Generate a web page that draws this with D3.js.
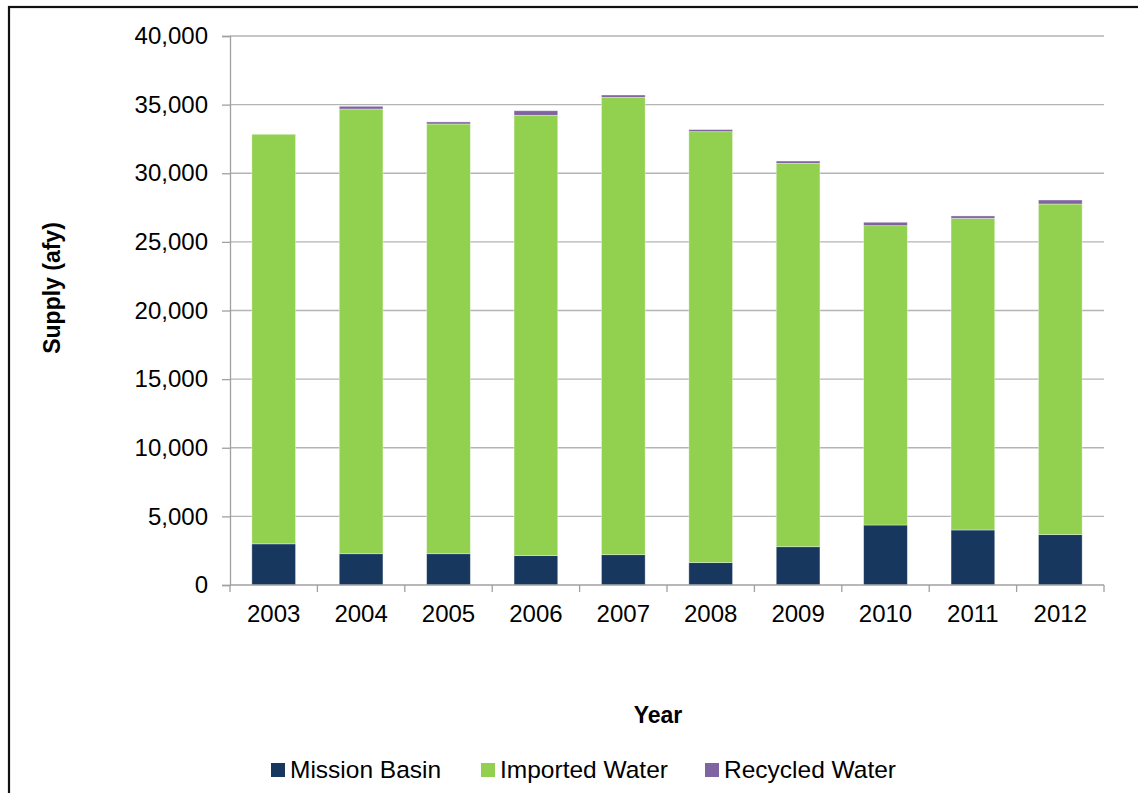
<!DOCTYPE html>
<html>
<head>
<meta charset="utf-8">
<script src="https://cdn.jsdelivr.net/npm/d3@7"></script>
<style>
  html, body { margin: 0; padding: 0; background: #fff; }
  svg { display: block; font-family: "Liberation Sans", Arial, sans-serif; }
</style>
</head>
<body>
<svg id="chart" width="1138" height="793"></svg>
<script>
// Annual water supply by source (acre-feet per year)
const years = ["2003", "2004", "2005", "2006", "2007", "2008", "2009", "2010", "2011", "2012"];
const missionBasin  = [3000, 2280, 2280, 2140, 2210, 1630, 2790, 4370, 4010, 3670];
const importedWater = [29840, 32400, 31310, 32080, 33320, 31400, 27930, 21810, 22710, 24090];
const recycledWater = [0, 200, 150, 335, 170, 150, 170, 250, 170, 290];
const yTicks = [0, 5000, 10000, 15000, 20000, 25000, 30000, 35000, 40000];

const seriesNames = ["Mission Basin", "Imported Water", "Recycled Water"];
const seriesColors = ["#17375E", "#92D050", "#8064A2"];

const rows = years.map((y, i) => ({
  year: y,
  "Mission Basin": missionBasin[i],
  "Imported Water": importedWater[i],
  "Recycled Water": recycledWater[i]
}));

const svg = d3.select("#chart");
const plot = { left: 230, right: 1104, top: 36, bottom: 585 };

// Outer frame
svg.append("rect")
  .attr("x", 9).attr("y", 7).attr("width", 1140).attr("height", 800)
  .attr("fill", "none").attr("stroke", "#111").attr("stroke-width", 2.2);

const x = d3.scaleBand().domain(years).range([plot.left, plot.right]).paddingInner(0.5).paddingOuter(0.25);
const y = d3.scaleLinear().domain([0, 40000]).range([plot.bottom, plot.top]);

// Horizontal gridlines
svg.append("g")
  .selectAll("line")
  .data(yTicks.filter(t => t > 0))
  .join("line")
  .attr("x1", plot.left).attr("x2", plot.right)
  .attr("y1", d => y(d)).attr("y2", d => y(d))
  .attr("stroke", "#b4b4b4").attr("stroke-width", 1.3);

// Stacked bars
const stack = d3.stack().keys(seriesNames)(rows);
svg.append("g")
  .selectAll("g")
  .data(stack)
  .join("g")
  .attr("fill", (d, i) => seriesColors[i])
  .selectAll("rect")
  .data(d => d)
  .join("rect")
  .attr("x", d => x(d.data.year))
  .attr("width", x.bandwidth())
  .attr("y", d => y(d[1]))
  .attr("height", d => Math.max(0, y(d[0]) - y(d[1])))
  .attr("stroke", "rgba(255,255,255,0.45)")
  .attr("stroke-width", 0.8);

// Y axis
const yAxis = d3.axisLeft(y)
  .tickValues(yTicks)
  .tickSize(8)
  .tickPadding(14)
  .tickFormat(d3.format(","));
const gy = svg.append("g").attr("transform", `translate(${plot.left},0)`).call(yAxis);
gy.select(".domain").attr("stroke", "#a0a0a0").attr("stroke-width", 1.3);
gy.selectAll(".tick line").attr("stroke", "#a0a0a0").attr("stroke-width", 1.3);
gy.selectAll(".tick text").attr("font-size", 24).attr("fill", "#000")
  .attr("font-family", "'Liberation Sans', Arial, sans-serif");

// X axis: baseline with ticks between categories
const step = x.step();
const boundaries = d3.range(years.length + 1).map(i => plot.left + i * step);
const gx = svg.append("g");
gx.append("line")
  .attr("x1", plot.left).attr("x2", plot.right)
  .attr("y1", plot.bottom).attr("y2", plot.bottom)
  .attr("stroke", "#a0a0a0").attr("stroke-width", 1.3);
gx.selectAll("line.tk")
  .data(boundaries)
  .join("line")
  .attr("class", "tk")
  .attr("x1", d => d).attr("x2", d => d)
  .attr("y1", plot.bottom).attr("y2", plot.bottom + 7)
  .attr("stroke", "#a0a0a0").attr("stroke-width", 1.3);
gx.selectAll("text")
  .data(years)
  .join("text")
  .attr("x", d => x(d) + x.bandwidth() / 2)
  .attr("y", 622)
  .attr("text-anchor", "middle")
  .attr("font-size", 24)
  .attr("fill", "#000")
  .text(d => d);

// Axis titles
svg.append("text")
  .attr("transform", "translate(60,288) rotate(-90)")
  .attr("text-anchor", "middle")
  .attr("font-size", 23).attr("font-weight", "bold")
  .text("Supply (afy)");

svg.append("text")
  .attr("x", 658).attr("y", 723)
  .attr("text-anchor", "middle")
  .attr("font-size", 23).attr("font-weight", "bold")
  .text("Year");

// Legend
const legendX = [271, 481, 705];
const legend = svg.append("g");
seriesNames.forEach((name, i) => {
  legend.append("rect")
    .attr("x", legendX[i]).attr("y", 763)
    .attr("width", 14).attr("height", 14)
    .attr("fill", seriesColors[i]);
  legend.append("text")
    .attr("x", legendX[i] + 19).attr("y", 778)
    .attr("font-size", 24.5).attr("fill", "#000")
    .text(name);
});
</script>
</body>
</html>
